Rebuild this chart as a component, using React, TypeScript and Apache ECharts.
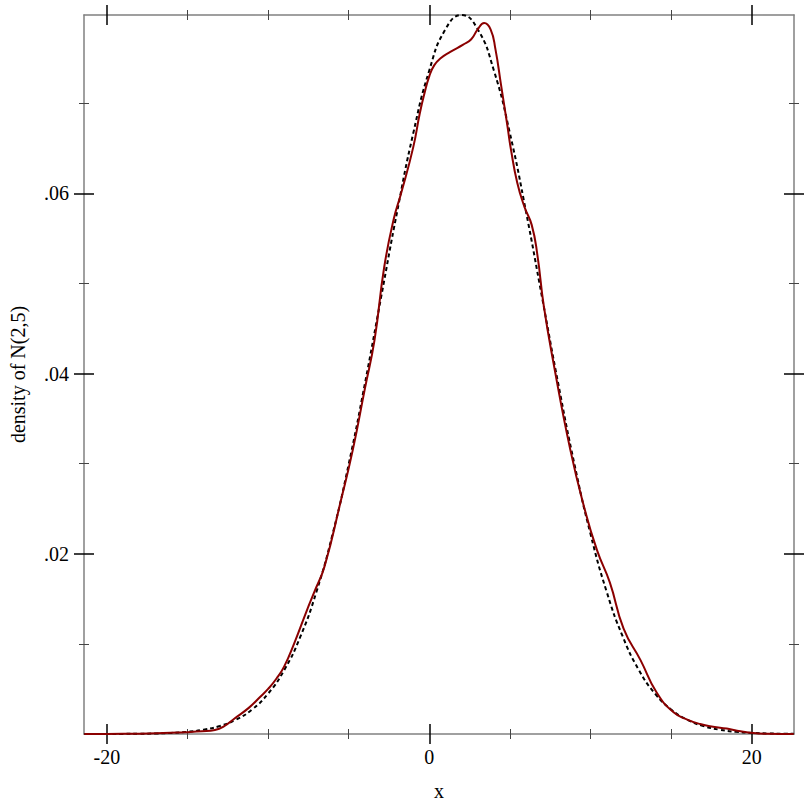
import React, { useEffect, useRef } from "react";
import * as echarts from "echarts";

// Reference curve: density of N(2,5)
const normalX = [-21.4, -21, -20, -19, -18, -17, -16, -15, -14, -13, -12, -11, -10, -9, -8, -7, -6, -5, -4, -3, -2, -1, 0, 1, 2, 3, 4, 5, 6, 7, 8, 9, 10, 11, 12, 13, 14, 15, 16, 17, 18, 19, 20, 21, 22, 22.6];
const normalY = [0.0000016, 0.000002, 0.000005, 0.0000118, 0.0000268, 0.0000583, 0.000122, 0.000246, 0.000477, 0.000887, 0.001583, 0.002717, 0.004479, 0.007095, 0.010798, 0.01579, 0.022184, 0.029945, 0.038837, 0.048394, 0.057938, 0.066645, 0.073654, 0.078208, 0.079788, 0.078208, 0.073654, 0.066645, 0.057938, 0.048394, 0.038837, 0.029945, 0.022184, 0.01579, 0.010798, 0.007095, 0.004479, 0.002717, 0.001583, 0.000887, 0.000477, 0.000246, 0.000122, 0.0000583, 0.0000268, 0.000016];

// Estimated density of the samples (solid dark red curve)
const kdeX = [-21.4, -20, -18, -16.5, -15.2, -14.1, -13.3, -12.7, -12.1, -11.2, -10.5, -10.0, -9.5, -9.0, -8.35, -7.6, -7.1, -6.5, -5.5, -4.75, -4.0, -3.4, -2.8, -2.2, -1.75, -1.0, -0.6, -0.3, 0.0, 0.3, 0.7, 1.3, 2.1, 2.6, 3.0, 3.4, 3.8, 4.1, 4.45, 4.85, 5.05, 5.45, 5.9, 6.35, 6.7, 7.1, 7.7, 8.75, 9.6, 10.4, 11.2, 12.05, 13.1, 14.1, 15.15, 16.0, 16.8, 17.6, 18.45, 19.3, 20.1, 21.0, 22.6];
const kdeY = [0.0, 0.00001, 0.00003, 0.0001, 0.0002, 0.0003, 0.00045, 0.0009, 0.0017, 0.0029, 0.0041, 0.005, 0.0061, 0.0075, 0.0102, 0.0137, 0.0159, 0.0186, 0.0258, 0.0315, 0.0383, 0.0437, 0.0518, 0.0572, 0.06, 0.0651, 0.0688, 0.0711, 0.073, 0.0742, 0.075, 0.0757, 0.0765, 0.0771, 0.0782, 0.0789, 0.0782, 0.076, 0.072, 0.0674, 0.065, 0.0612, 0.0585, 0.0565, 0.0532, 0.0475, 0.0412, 0.0315, 0.0252, 0.0204, 0.0168, 0.0117, 0.0082, 0.0046, 0.0024, 0.0016, 0.0011, 0.0008, 0.0006, 0.0003, 0.0001, 0.00002, 0.0];

const xMajorTicks = [-20, 0, 20];
const xMinorTicks = [-15, -10, -5, 5, 10, 15];
const yMajorTicks = [0.02, 0.04, 0.06];
const yMinorTicks = [0.01, 0.03, 0.05, 0.07];

const X_MIN = -21.42;
const X_MAX = 22.62;
const Y_MIN = 0;
const Y_MAX = 0.07979;

const FONT = "'Liberation Serif', 'DejaVu Serif', serif";
const FRAME = "#808080";

function tickAxis(
  dir: "x" | "y",
  position: string,
  values: number[],
  inside: boolean,
  length: number,
  color: string,
  width: number
) {
  return {
    type: "value",
    position,
    min: dir === "x" ? X_MIN : Y_MIN,
    max: dir === "x" ? X_MAX : Y_MAX,
    axisLine: { show: false, onZero: false },
    axisLabel: { show: false },
    splitLine: { show: false },
    axisTick: {
      show: true,
      inside,
      length,
      customValues: values,
      lineStyle: { color, width },
    },
  };
}

export default function App() {
  const ref = useRef<HTMLDivElement>(null);
  useEffect(() => {
    if (!ref.current) return;
    const chart = echarts.init(ref.current, null, { renderer: "svg" });
    const xAxes: any[] = [
      {
        type: "value",
        position: "bottom",
        min: X_MIN,
        max: X_MAX,
        name: "x",
        nameLocation: "middle",
        nameGap: 47,
        nameTextStyle: { fontFamily: FONT, fontSize: 20, color: "#000" },
        axisLine: { show: true, onZero: false, lineStyle: { color: FRAME, width: 1.5 } },
        axisTick: {
          show: true,
          inside: false,
          length: 10,
          customValues: xMajorTicks,
          lineStyle: { color: "#000", width: 1.5 },
        },
        axisLabel: {
          show: true,
          customValues: xMajorTicks,
          margin: 13,
          fontFamily: FONT,
          fontSize: 20,
          color: "#000",
        },
        splitLine: { show: false },
      },
      tickAxis("x", "bottom", xMajorTicks, true, 10, "#000", 1.5),
      tickAxis("x", "bottom", xMinorTicks, true, 5, "#444", 1),
      tickAxis("x", "bottom", xMinorTicks, false, 5, "#444", 1),
      {
        ...tickAxis("x", "top", xMajorTicks, true, 10, "#000", 1.5),
        axisLine: { show: true, onZero: false, lineStyle: { color: FRAME, width: 1.5 } },
      },
      tickAxis("x", "top", xMajorTicks, false, 10, "#000", 1.5),
      tickAxis("x", "top", xMinorTicks, true, 5, "#444", 1),
      tickAxis("x", "top", xMinorTicks, false, 5, "#444", 1),
    ];
    const yAxes: any[] = [
      {
        type: "value",
        position: "left",
        min: Y_MIN,
        max: Y_MAX,
        name: "density of N(2,5)",
        nameLocation: "middle",
        nameGap: 56,
        nameTextStyle: { fontFamily: FONT, fontSize: 20, color: "#000" },
        axisLine: { show: true, onZero: false, lineStyle: { color: FRAME, width: 1.5 } },
        axisTick: {
          show: true,
          inside: false,
          length: 10,
          customValues: yMajorTicks,
          lineStyle: { color: "#000", width: 1.5 },
        },
        axisLabel: {
          show: true,
          customValues: yMajorTicks,
          margin: 15,
          fontFamily: FONT,
          fontSize: 20,
          color: "#000",
          formatter: (v: number) => v.toFixed(2).replace(/^0/, ""),
        },
        splitLine: { show: false },
      },
      tickAxis("y", "left", yMajorTicks, true, 10, "#000", 1.5),
      tickAxis("y", "left", yMinorTicks, true, 5, "#444", 1),
      tickAxis("y", "left", yMinorTicks, false, 5, "#444", 1),
      {
        ...tickAxis("y", "right", yMajorTicks, true, 10, "#000", 1.5),
        axisLine: { show: true, onZero: false, lineStyle: { color: FRAME, width: 1.5 } },
      },
      tickAxis("y", "right", yMajorTicks, false, 10, "#000", 1.5),
      tickAxis("y", "right", yMinorTicks, true, 5, "#444", 1),
      tickAxis("y", "right", yMinorTicks, false, 5, "#444", 1),
    ];
    chart.setOption({
      animation: false,
      backgroundColor: "#fff",
      grid: { left: 82, right: 18, top: 15, bottom: 78, containLabel: false },
      xAxis: xAxes,
      yAxis: yAxes,
      series: [
        {
          type: "line",
          name: "N(2,5)",
          xAxisIndex: 0,
          yAxisIndex: 0,
          data: normalX.map((x, i) => [x, normalY[i]]),
          showSymbol: false,
          smooth: true,
          lineStyle: { color: "#000", width: 2, type: [4, 3] },
          itemStyle: { color: "#000" },
        },
        {
          type: "line",
          name: "density",
          xAxisIndex: 0,
          yAxisIndex: 0,
          data: kdeX.map((x, i) => [x, kdeY[i]]),
          showSymbol: false,
          smooth: true,
          lineStyle: { color: "#8b0000", width: 2 },
          itemStyle: { color: "#8b0000" },
        },
      ],
    });
    return () => chart.dispose();
  }, []);
  return (
    <div
      ref={ref}
      style={{ position: "fixed", left: 0, top: 0, width: 812, height: 812, background: "#fff" }}
    />
  );
}
